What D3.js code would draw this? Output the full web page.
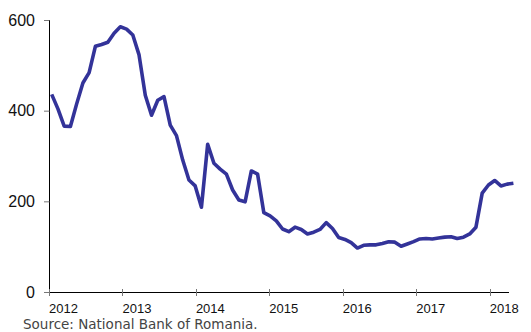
<!DOCTYPE html>
<html>
<head>
<meta charset="utf-8">
<script src="https://cdn.jsdelivr.net/npm/d3@7"></script>
<style>
  body { margin: 0; background: #fff; }
  svg text { font-family: "Liberation Sans", Arial, sans-serif; }
</style>
</head>
<body>
<svg class="chart" width="531" height="332"></svg>
<script>
// valores mensais, jan 2012 - mar 2018
var values = [
  436, 404, 366, 365, 415, 461, 484, 542, 546, 551, 571, 585,
  580, 567, 523, 434, 390, 423, 431, 368, 345, 291, 247, 234,
  187, 326, 284, 271, 260, 225, 203, 199, 267, 260, 175, 168,
  157, 139, 133, 143, 138, 128, 132, 138, 153, 140, 120, 116,
  109,  97, 103, 104, 104, 107, 111, 110, 101, 106, 111, 117,
  118, 117, 119, 121, 122, 118, 121, 128, 143, 218, 236, 246,
  234, 238, 240
];
var years = [2012, 2013, 2014, 2015, 2016, 2017, 2018];
var yTicks = [0, 200, 400, 600];
var source = "Source: National Bank of Romania.";

// dimensões (evita "top", que é window.top)
var plotLeft = 49, plotTop = 20, plotBottom = 292, axisRight = 509;

var svg = d3.select(".chart");

// escala dos anos (eixo X)
var xYear = d3.scaleLinear()
  .domain([2012, 2018])
  .range([plotLeft, 489.7]);

// escala dos pontos mensais
var xIdx = d3.scaleLinear()
  .domain([0, values.length - 1])
  .range([51.7, 513.4]);

var y = d3.scaleLinear()
  .domain([0, 600])
  .range([plotBottom, plotTop]);

// eixo Y
var yAxisG = svg.append("g")
  .attr("transform", "translate(" + plotLeft + ",0)")
  .call(d3.axisLeft(y).tickValues(yTicks).tickSize(5).tickPadding(9).tickFormat(d3.format("d")));
yAxisG.select(".domain").attr("d", "M0.5," + plotTop + "V" + plotBottom).attr("stroke", "#000");
yAxisG.selectAll(".tick line").attr("stroke", "#777").attr("x1", 0.5);
yAxisG.selectAll(".tick text").attr("font-size", 16).attr("fill", "#111");

// eixo X
var xAxisG = svg.append("g")
  .attr("transform", "translate(0," + plotBottom + ")");
xAxisG.append("line")
  .attr("x1", plotLeft).attr("x2", axisRight)
  .attr("y1", 0.5).attr("y2", 0.5)
  .attr("stroke", "#000");
xAxisG.selectAll(".xtick")
  .data(years)
  .enter().append("line")
  .attr("class", "xtick")
  .attr("x1", function(d) { return Math.round(xYear(d)) + 0.5; })
  .attr("x2", function(d) { return Math.round(xYear(d)) + 0.5; })
  .attr("y1", -3).attr("y2", 4)
  .attr("stroke", "#777");
xAxisG.selectAll(".xlabel")
  .data(years)
  .enter().append("text")
  .attr("class", "xlabel")
  .attr("x", function(d) { return xYear(d); })
  .attr("y", 21)
  .attr("font-size", 13)
  .attr("fill", "#111")
  .text(function(d) { return d; });

// linha
var line = d3.line()
  .x(function(d, i) { return xIdx(i); })
  .y(function(d) { return y(d); });

svg.append("path")
  .datum(values)
  .attr("d", line)
  .attr("fill", "none")
  .attr("stroke", "#333399")
  .attr("stroke-width", 3.6)
  .attr("stroke-linejoin", "round");

// fonte
svg.append("text")
  .attr("x", 23)
  .attr("y", 329)
  .attr("font-size", 13.5)
  .attr("fill", "#444")
  .style("font-family", "'DejaVu Sans', sans-serif")
  .text(source);
</script>
</body>
</html>
